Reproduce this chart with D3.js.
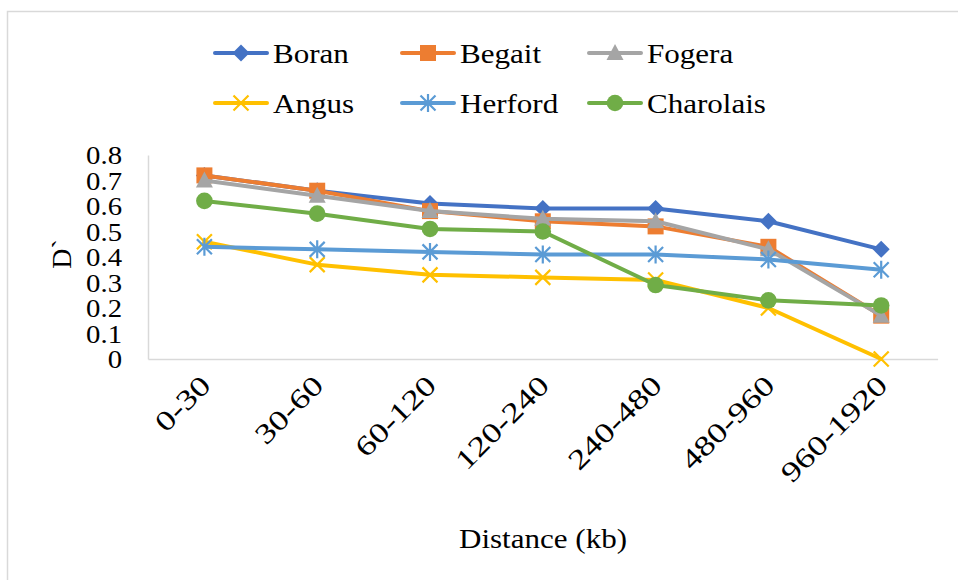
<!DOCTYPE html>
<html>
<head>
<meta charset="utf-8">
<script src="https://cdn.jsdelivr.net/npm/d3@7"></script>
</head>
<body style="margin:0">
<svg id="chart" width="958" height="580" font-family="Liberation Serif"></svg>
<script>
// Linkage disequilibrium (D') decay by marker distance class
const categories = ["0-30", "30-60", "60-120", "120-240", "240-480", "480-960", "960-1920"];
const boran     = [0.72, 0.66, 0.61, 0.59, 0.59, 0.54, 0.43];
const begait    = [0.72, 0.66, 0.58, 0.54, 0.52, 0.44, 0.17];
const fogera    = [0.70, 0.64, 0.58, 0.55, 0.54, 0.43, 0.17];
const angus     = [0.46, 0.37, 0.33, 0.32, 0.31, 0.20, 0.00];
const herford   = [0.44, 0.43, 0.42, 0.41, 0.41, 0.39, 0.35];
const charolais = [0.62, 0.57, 0.51, 0.50, 0.29, 0.23, 0.21];
const yTicks    = [0, 0.1, 0.2, 0.3, 0.4, 0.5, 0.6, 0.7, 0.8];

const series = [
  { name: "Boran",     values: boran,     color: "#4472C4", marker: "diamond" },
  { name: "Begait",    values: begait,    color: "#ED7D31", marker: "square" },
  { name: "Fogera",    values: fogera,    color: "#A5A5A5", marker: "triangle" },
  { name: "Angus",     values: angus,     color: "#FFC000", marker: "x" },
  { name: "Herford",   values: herford,   color: "#5B9BD5", marker: "star" },
  { name: "Charolais", values: charolais, color: "#70AD47", marker: "circle" }
];

const FONT = "Liberation Serif";
const svg = d3.select("#chart");
const stretch = 1.15;   // slightly wide serif face
const axisColor = "#d9d9d9";

function label(g, str, size) {
  return g.append("text")
    .attr("font-family", FONT)
    .attr("font-size", size)
    .attr("fill", "#000")
    .text(str);
}

// outer chart frame
svg.append("rect")
  .attr("x", 7.5).attr("y", 11.5)
  .attr("width", 1000).attr("height", 1000)
  .attr("fill", "none").attr("stroke", axisColor).attr("stroke-width", 1.5);

const plot = { left: 148, right: 937.6, top: 155, bottom: 359 };

const x = d3.scaleBand().domain(categories).range([plot.left, plot.right]).padding(0);
const y = d3.scaleLinear().domain([0, 0.8]).range([plot.bottom, plot.top]);
const cx = c => x(c) + x.bandwidth() / 2;
const fmt = d => d === 0 ? "0" : d3.format(".1f")(d);

// value axis
const gy = svg.append("g").attr("transform", `translate(${plot.left},0)`)
  .call(d3.axisLeft(y).tickValues(yTicks).tickSize(0).tickFormat(fmt));
gy.attr("font-family", FONT);
gy.select(".domain").attr("stroke", axisColor).attr("stroke-width", 1.5);
gy.selectAll(".tick text").remove();
gy.selectAll(".tick").each(function(d) {
  label(d3.select(this), fmt(d), 25)
    .attr("transform", `translate(-26,8.5) scale(${stretch},1)`)
    .attr("text-anchor", "end");
});

// category axis
const gx = svg.append("g").attr("transform", `translate(0,${plot.bottom})`)
  .call(d3.axisBottom(x).tickSize(0));
gx.attr("font-family", FONT);
gx.select(".domain").attr("stroke", axisColor).attr("stroke-width", 1.5);
gx.selectAll(".tick text").remove();
gx.selectAll(".tick").each(function(d) {
  label(d3.select(this), d, 28)
    .attr("transform", `translate(8,28) rotate(-45) scale(1.28,1)`)
    .attr("text-anchor", "end");
});

// axis titles
label(svg, "Distance (kb)", 27)
  .attr("transform", `translate(543,548) scale(${stretch},1)`)
  .attr("text-anchor", "middle");

label(svg, "D`", 28)
  .attr("x", 0).attr("y", 0)
  .attr("transform", `translate(71,254) rotate(-90)`)
  .attr("text-anchor", "middle");

// marker painter
function drawMarker(g, type, color, px, py) {
  const s = 8.5;
  if (type === "diamond") {
    g.append("path").attr("d", `M${px},${py - s}L${px + s},${py}L${px},${py + s}L${px - s},${py}Z`).attr("fill", color);
  } else if (type === "square") {
    g.append("rect").attr("x", px - 8).attr("y", py - 8).attr("width", 16).attr("height", 16).attr("fill", color);
  } else if (type === "triangle") {
    g.append("path").attr("d", `M${px},${py - 9}L${px + 8.5},${py + 7}L${px - 8.5},${py + 7}Z`).attr("fill", color);
  } else if (type === "circle") {
    g.append("circle").attr("cx", px).attr("cy", py).attr("r", 8.3).attr("fill", color);
  } else if (type === "x") {
    const r = 7.5;
    g.append("path").attr("d", `M${px - r},${py - r}L${px + r},${py + r}M${px - r},${py + r}L${px + r},${py - r}`)
      .attr("stroke", color).attr("stroke-width", 2.2).attr("fill", "none");
  } else if (type === "star") {
    const r = 7.5;
    g.append("path").attr("d", `M${px - r},${py - r}L${px + r},${py + r}M${px - r},${py + r}L${px + r},${py - r}M${px},${py - 9}L${px},${py + 9}`)
      .attr("stroke", color).attr("stroke-width", 2.2).attr("fill", "none");
  }
}

// series lines and markers
const line = d3.line().x((d, i) => cx(categories[i])).y(d => y(d));
series.forEach(s => {
  const g = svg.append("g");
  g.append("path").datum(s.values)
    .attr("d", line)
    .attr("fill", "none").attr("stroke", s.color).attr("stroke-width", 4)
    .attr("stroke-linejoin", "round").attr("stroke-linecap", "round");
  s.values.forEach((v, i) => drawMarker(g, s.marker, s.color, cx(categories[i]), y(v)));
});

// legend
const legend = svg.append("g");
series.forEach((s, i) => {
  const col = i % 3, row = Math.floor(i / 3);
  const lx = 215 + col * 187, ly = 53 + row * 50;
  const g = legend.append("g");
  g.append("line").attr("x1", lx).attr("x2", lx + 52).attr("y1", ly).attr("y2", ly)
    .attr("stroke", s.color).attr("stroke-width", 4).attr("stroke-linecap", "round");
  drawMarker(g, s.marker, s.color, lx + 26, ly);
  label(g, s.name, 27)
    .attr("transform", `translate(${lx + 58},${ly + 9.5}) scale(${stretch},1)`);
});
</script>
</body>
</html>
